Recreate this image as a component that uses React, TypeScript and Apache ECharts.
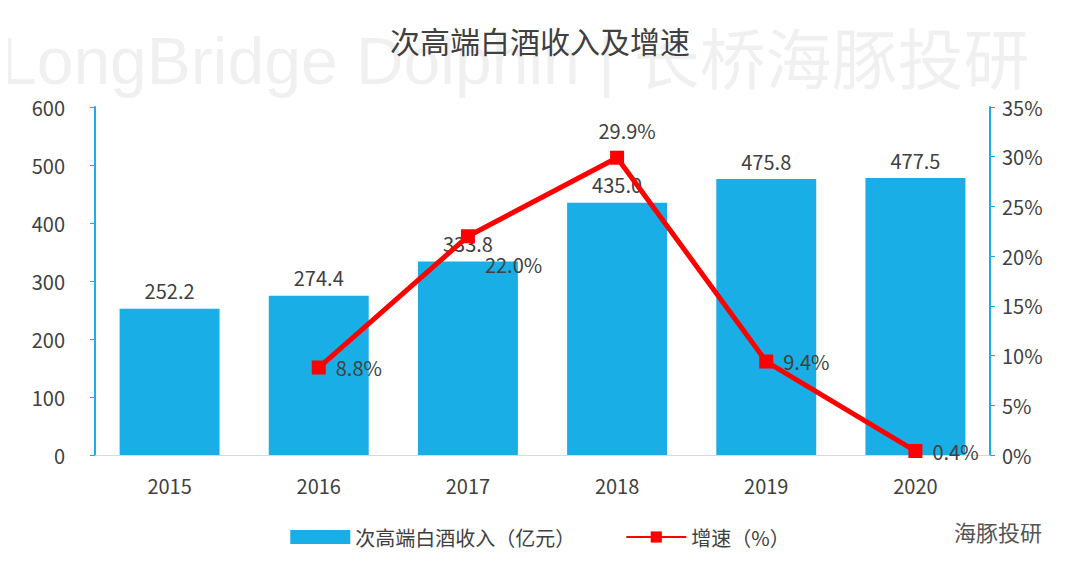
import React, { useEffect, useRef } from "react";
import * as echarts from "echarts";

const years = ["2015", "2016", "2017", "2018", "2019", "2020"];
const revenue = [252.2, 274.4, 333.8, 435.0, 475.8, 477.5];
const growth = [null, 8.8, 22.0, 29.9, 9.4, 0.4];
const growthLabelPos = ["right", "right", "right", "top", "right", "right"];
const growthLabelOffset = [[0, 0], [0, 0], [0, 28], [10, 0], [0, 0], [0, 0]];

const App = () => {
  const chartRef = useRef<HTMLDivElement>(null);

  useEffect(() => {
    if (!chartRef.current) return;
    const chart = echarts.init(chartRef.current, null, { renderer: "svg" });
    const font = "'Noto Sans CJK SC', 'Noto Sans', sans-serif";

    const option: echarts.EChartsOption = {
      animation: false,
      backgroundColor: "#ffffff",
      textStyle: { fontFamily: font },
      title: {
        text: "次高端白酒收入及增速",
        left: "center",
        top: 20,
        textStyle: { color: "#404040", fontSize: 30, fontWeight: "normal", fontFamily: font },
      },
      graphic: [
        {
          type: "text",
          left: 0,
          top: 28,
          z: -1,
          silent: true,
          style: {
            text: "LongBridge Dolphin | 长桥海豚投研",
            font: "66px 'Liberation Sans', 'Noto Sans CJK SC', sans-serif",
            fill: "rgba(0,0,0,0.06)",
          },
        },
        {
          type: "text",
          right: 38,
          top: 520,
          style: { text: "海豚投研", font: "22px 'Noto Sans CJK SC'", fill: "#555" },
        },
      ],
      legend: {
        bottom: 28,
        left: "center",
        itemGap: 50,
        itemWidth: 60,
        itemHeight: 14,
        textStyle: { color: "#404040", fontSize: 20 },
        data: [
          { name: "次高端白酒收入（亿元）", icon: "rect" },
          { name: "增速（%）" },
        ],
      },
      grid: { left: 95, right: 90, top: 107, bottom: 125 },
      xAxis: {
        type: "category",
        data: years,
        axisLine: { lineStyle: { color: "#d9d9d9" } },
        axisTick: { show: false },
        axisLabel: { color: "#404040", fontSize: 20, margin: 20 },
      },
      yAxis: [
        {
          type: "value",
          min: 0,
          max: 600,
          interval: 100,
          axisLine: { show: true, lineStyle: { color: "#1aaee6", width: 2 } },
          axisTick: { show: true, lineStyle: { color: "#1aaee6" } },
          splitLine: { show: false },
          axisLabel: { color: "#404040", fontSize: 20, margin: 30 },
        },
        {
          type: "value",
          min: 0,
          max: 35,
          interval: 5,
          position: "right",
          axisLine: { show: true, lineStyle: { color: "#1aaee6", width: 2 } },
          axisTick: { show: true, lineStyle: { color: "#1aaee6" } },
          splitLine: { show: false },
          axisLabel: { color: "#404040", fontSize: 20, formatter: "{value}%", margin: 12 },
        },
      ],
      series: [
        {
          name: "次高端白酒收入（亿元）",
          type: "bar",
          data: revenue,
          barWidth: "67%",
          itemStyle: { color: "#1aaee6" },
          label: {
            show: true,
            position: "top",
            color: "#404040",
            fontSize: 20,
            distance: 8,
            formatter: (p: any) => p.value.toFixed(1),
          },
        },
        {
          name: "增速（%）",
          type: "line",
          yAxisIndex: 1,
          data: growth.map((v, i) => ({
            value: v,
            label: { position: growthLabelPos[i] as any, offset: growthLabelOffset[i] },
          })),
          symbol: "rect",
          symbolSize: 14,
          lineStyle: { color: "#ff0000", width: 5 },
          itemStyle: { color: "#ff0000" },
          label: {
            show: true,
            color: "#404040",
            fontSize: 20,
            distance: 10,
            formatter: (p: any) => p.value.toFixed(1) + "%",
          },
        },
      ],
    };

    chart.setOption(option);
    return () => chart.dispose();
  }, []);

  return <div ref={chartRef} style={{ width: 1080, height: 580, margin: -8 }} />;
};

export default App;
